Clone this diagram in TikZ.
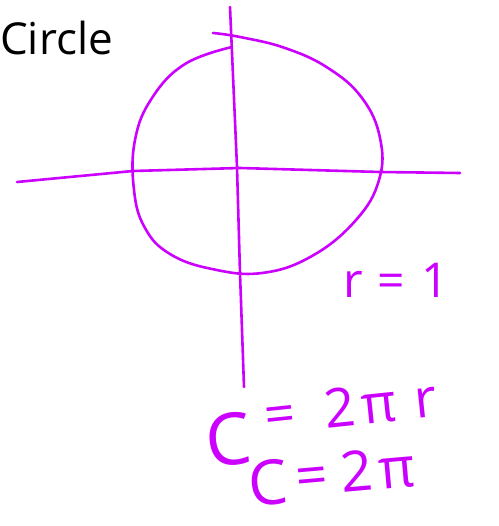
\documentclass[tikz,border=0pt]{standalone}
\usepackage{fontspec}
\setmainfont{Open Sans}
\usepackage{xcolor}
\usepackage{tikz}
\usetikzlibrary{positioning}

\definecolor{pen}{RGB}{204,0,255}

\begin{document}
\begin{tikzpicture}[
    x=1pt, y=-1pt,
    ink/.style={draw=pen, line width=2.6pt, line cap=round, line join=round},
    hand/.style={text=pen, inner sep=0pt, anchor=base west}
]
\useasboundingbox (0,0) rectangle (498,526);

\node[anchor=west, inner sep=0pt, font=\fontsize{44}{48}\selectfont] (title) at (0,38) {Circle};

% axes
\draw[ink] (17,182) -- (133,171) -- (240,168) -- (380,172) -- (460,173);
\draw[ink] (230,7) -- (237,167) -- (240,273) -- (244,387);

% the circle, drawn by hand
\draw[ink] plot[smooth, tension=0.7] coordinates {
    (213,33) (240,37) (285,48) (328,68) (362,98) (380,138)
    (379,180) (356,220) (312,256) (262,273) (212,269)
    (170,254) (145,228) (134,190) (135,140) (152,98) (185,64) (232,47)};

\node[hand, font=\fontsize{48}{52}\selectfont] (radius) at (343,297)
    {r\hspace{0.3em}=\hspace{0.35em}1};
\node[hand, rotate=6] (circum) at (208,468)
    {\fontsize{72}{76}\selectfont C\raisebox{27pt}{\fontsize{54}{58}\selectfont
     \hspace{0.3em}=\hspace{0.55em}2\hspace{0.1em}π\hspace{0.35em}r}};
\node[hand, rotate=5] (circumtwo) at (250,507)
    {\fontsize{62}{66}\selectfont C\raisebox{6pt}{\fontsize{56}{60}\selectfont
     \hspace{0.15em}=\hspace{0.25em}2\hspace{0.1em}π}};
\end{tikzpicture}
\end{document}
